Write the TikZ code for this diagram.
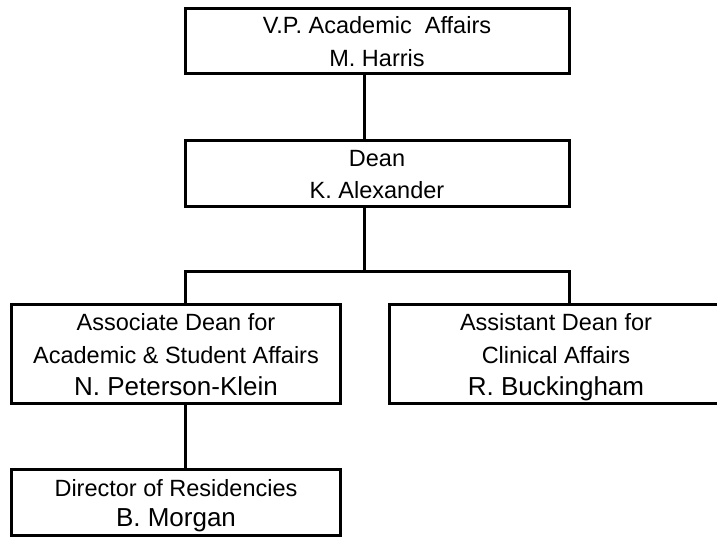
\documentclass[tikz,border=0pt]{standalone}
\usepackage{fontspec}
\setmainfont{Liberation Sans}
\usetikzlibrary{positioning}

\newcommand{\bigname}[1]{{\fontsize{26}{32}\selectfont #1}}
\newcommand{\hstrut}{\rule{0pt}{24pt}}
\newcommand{\dstrut}{\rule[-6pt]{0pt}{6pt}}

\begin{document}
\begin{tikzpicture}[
    x=1pt, y=1pt,
    office/.style={rectangle, draw, line width=3pt, outer sep=0pt, inner sep=0pt, align=center, font=\fontsize{23.5}{33}\selectfont},
    topbox/.style={office, minimum width=384pt, minimum height=65pt},
    lowbox/.style={office, minimum width=329pt, minimum height=99pt},
    link/.style={line width=3pt}
]
\useasboundingbox (0,0) rectangle (717,-536);
\clip (0,0) rectangle (717,-536);

% Upper levels
\node[topbox] (vp) at (377,-40.5) {\hstrut V.P. Academic\ \ Affairs\\M. Harris\dstrut};
\node[topbox, minimum height=66pt, below=67.5pt of vp] (dean) {\hstrut Dean\\[-0.5pt]K. Alexander\dstrut};

% Dean's offices
\node[lowbox] (assoc) at (176,-353.5) {\hstrut Associate Dean for\\Academic \& Student Affairs\\[-1pt]\bigname{N. Peterson-Klein}\dstrut};
\node[lowbox, minimum width=333pt, right=49pt of assoc] (assist) {\hstrut Assistant Dean for\\Clinical Affairs\\[-1pt]\bigname{R. Buckingham}\dstrut};

% Residencies
\node[lowbox, minimum height=66pt, below=66pt of assoc] (director) {\hstrut Director of Residencies\\[-3pt]\bigname{B. Morgan}\dstrut};

% Connectors
\draw[link] ([xshift=-13pt]vp.south) -- ([xshift=-13pt]dean.north);
\draw[link] ([xshift=-13pt]dean.south) -- ++(0,-64.5) coordinate (bus);
\draw[link] ([xshift=9pt]assoc.north) |- (bus) -| ([xshift=13pt]assist.north);
\draw[link] ([xshift=9pt]assoc.south) -- ([xshift=9pt]director.north);

\end{tikzpicture}
\end{document}
